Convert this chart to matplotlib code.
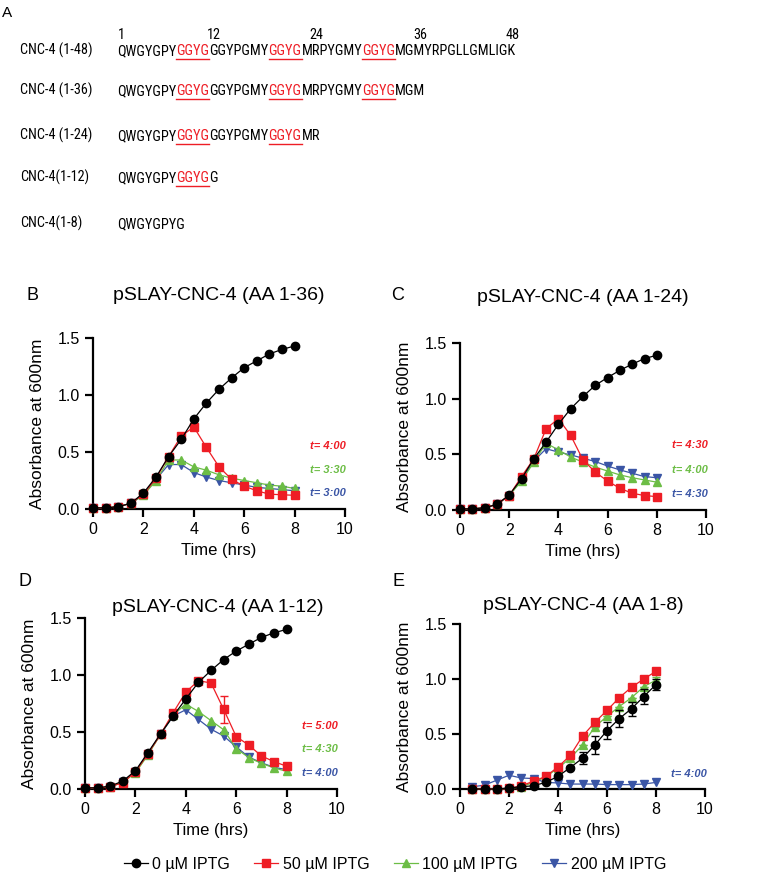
import matplotlib
matplotlib.use("Agg")
import matplotlib.pyplot as plt
from matplotlib import font_manager
from matplotlib.font_manager import FontProperties
from matplotlib.lines import Line2D

plt.rcParams['font.family'] = ['Liberation Sans', 'DejaVu Sans']

# ---------------- data ----------------
time_bcd = [0, 0.5, 1, 1.5, 2, 2.5, 3, 3.5, 4, 4.5, 5, 5.5, 6, 6.5, 7, 7.5, 8]
time_e = [0.5, 1, 1.5, 2, 2.5, 3, 3.5, 4, 4.5, 5, 5.5, 6, 6.5, 7, 7.5, 8]

series_labels = ["0 µM IPTG", "50 µM IPTG", "100 µM IPTG", "200 µM IPTG"]

b_0 = [0.01, 0.01, 0.02, 0.05, 0.14, 0.28, 0.46, 0.61, 0.79, 0.93, 1.05, 1.15, 1.24, 1.30, 1.36, 1.40, 1.43]
b_50 = [0.01, 0.01, 0.02, 0.05, 0.13, 0.27, 0.46, 0.64, 0.72, 0.54, 0.37, 0.26, 0.20, 0.16, 0.13, 0.125, 0.12]
b_100 = [0.01, 0.01, 0.02, 0.05, 0.12, 0.25, 0.43, 0.43, 0.37, 0.34, 0.30, 0.27, 0.25, 0.23, 0.21, 0.20, 0.18]
b_200 = [0.01, 0.01, 0.02, 0.05, 0.12, 0.26, 0.39, 0.39, 0.32, 0.28, 0.25, 0.23, 0.21, 0.19, 0.18, 0.17, 0.16]

c_0 = [0.01, 0.01, 0.02, 0.05, 0.135, 0.28, 0.46, 0.61, 0.77, 0.91, 1.02, 1.12, 1.19, 1.255, 1.31, 1.36, 1.39]
c_50 = [0.01, 0.01, 0.02, 0.05, 0.13, 0.30, 0.46, 0.73, 0.82, 0.67, 0.45, 0.34, 0.26, 0.195, 0.15, 0.13, 0.12]
c_100 = [0.01, 0.01, 0.02, 0.05, 0.13, 0.26, 0.43, 0.60, 0.54, 0.475, 0.43, 0.385, 0.35, 0.315, 0.29, 0.27, 0.25]
c_200 = [0.01, 0.01, 0.02, 0.05, 0.13, 0.27, 0.44, 0.55, 0.52, 0.495, 0.465, 0.435, 0.395, 0.36, 0.33, 0.30, 0.29]

d_0 = [0.01, 0.01, 0.025, 0.07, 0.16, 0.32, 0.485, 0.64, 0.79, 0.935, 1.04, 1.135, 1.21, 1.27, 1.33, 1.37, 1.40]
d_50 = [0.01, 0.01, 0.02, 0.055, 0.15, 0.31, 0.48, 0.67, 0.85, 0.95, 0.93, 0.70, 0.46, 0.385, 0.29, 0.24, 0.20]
d_50_err = [0, 0, 0, 0, 0, 0, 0, 0, 0, 0, 0, 0.12, 0, 0, 0, 0, 0]
d_100 = [0.01, 0.01, 0.02, 0.06, 0.14, 0.30, 0.48, 0.65, 0.745, 0.68, 0.60, 0.52, 0.355, 0.275, 0.225, 0.185, 0.155]
d_200 = [0.01, 0.01, 0.02, 0.06, 0.15, 0.31, 0.48, 0.64, 0.695, 0.61, 0.525, 0.465, 0.37, 0.28, 0.23, 0.19, 0.17]

e_0 = [0.0, 0.0, 0.0, 0.01, 0.02, 0.03, 0.06, 0.115, 0.195, 0.28, 0.40, 0.53, 0.64, 0.73, 0.84, 0.95]
e_0_err = [0, 0, 0, 0, 0, 0, 0, 0.01, 0.015, 0.055, 0.08, 0.075, 0.075, 0.065, 0.065, 0.05]
e_50 = [0.0, 0.0, 0.0, 0.005, 0.03, 0.07, 0.115, 0.20, 0.305, 0.48, 0.605, 0.715, 0.83, 0.925, 1.0, 1.07]
e_100 = [0.0, 0.0, 0.0, 0.005, 0.02, 0.06, 0.11, 0.19, 0.28, 0.40, 0.565, 0.66, 0.75, 0.83, 0.93, 0.99]
e_100_err = [0, 0, 0, 0, 0, 0, 0, 0, 0, 0, 0, 0, 0, 0, 0, 0.03]
e_200 = [0.02, 0.035, 0.08, 0.125, 0.10, 0.095, 0.06, 0.055, 0.045, 0.045, 0.045, 0.04, 0.04, 0.04, 0.045, 0.06]

panel_titles = ["pSLAY-CNC-4 (AA 1-36)", "pSLAY-CNC-4 (AA 1-24)",
                "pSLAY-CNC-4 (AA 1-12)", "pSLAY-CNC-4 (AA 1-8)"]
panel_letters = ["B", "C", "D", "E"]
annot_b = [("t= 4:00", 0.55, 1), ("t= 3:30", 0.34, 2), ("t= 3:00", 0.14, 3)]
annot_c = [("t= 4:30", 0.58, 1), ("t= 4:00", 0.36, 2), ("t= 4:30", 0.14, 3)]
annot_d = [("t= 5:00", 0.55, 1), ("t= 4:30", 0.35, 2), ("t= 4:00", 0.14, 3)]
annot_e = [("t= 4:00", 0.14, 3)]

seq_labels = ["CNC-4 (1-48)", "CNC-4 (1-36)", "CNC-4 (1-24)", "CNC-4(1-12)", "CNC-4(1-8)"]
seq_full = "QWGYGPYGGYGGGYPGMYGGYGMRPYGMYGGYGMGMYRPGLLGMLIGK"
seq_lengths = [48, 36, 24, 12, 8]
motif_starts = [8, 19, 30]   # 1-based start of GGYG motifs
motif_len = 4
pos_marks = [1, 12, 24, 36, 48]

# ---------------- style ----------------
COLORS = ["#000000", "#EE1D25", "#6CBD45", "#3A55A5"]
MARKERS = ["o", "s", "^", "v"]

W, H = 772, 875
fig = plt.figure(figsize=(W / 100, H / 100), dpi=100)
renderer = fig.canvas.get_renderer()


def fx(x):
    return x / W


def fy(y):
    return 1 - y / H


# ---------------- panel A: choose a condensed sans font if available ----------------
fpA_base = None
entries = font_manager.fontManager.ttflist
prefs = ["Liberation Sans Narrow", "Roboto Condensed", "Open Sans Condensed",
         "Noto Sans Condensed", "DejaVu Sans Condensed"]
for pname in prefs:
    for f in entries:
        if f.name == pname and f.style == "normal" and f.weight in (400, "normal", "regular"):
            fpA_base = f.fname
            break
    if fpA_base:
        break
if fpA_base is None:
    for f in entries:
        if (f.stretch == "condensed" and f.style == "normal"
                and f.weight in (400, "normal", "regular")
                and any(k in f.name for k in ["Liberation Sans", "Roboto", "Open Sans", "Noto Sans", "DejaVu Sans", "Lato", "Inter"])
                and "Mono" not in f.name and "CJK" not in f.name):
            fpA_base = f.fname
            break


def make_fp(size):
    if fpA_base:
        return FontProperties(fname=fpA_base, size=size)
    return FontProperties(family="Liberation Sans", size=size)


fp_test = make_fp(10)
w10 = renderer.get_text_width_height_descent(seq_full, fp_test, ismath=False)[0]
sizeA = 10 * 400 / w10
fpA = make_fp(sizeA)

fig.text(fx(2), fy(17), "A", fontsize=11, va="baseline", ha="left")

row_base = [55, 95, 140, 182, 228]
seq_x0 = 117
for lbl, n, yb in zip(seq_labels, seq_lengths, row_base):
    fig.text(fx(20), fy(yb), lbl, fontproperties=fpA, va="baseline", ha="left")
    s = seq_full[:n]
    segs = []
    i = 0
    while i < n:
        starts = [m - 1 for m in motif_starts if m - 1 >= i and m - 1 + motif_len <= n]
        if starts:
            st = starts[0]
            if st > i:
                segs.append((s[i:st], "black", False))
            segs.append((s[st:st + motif_len], COLORS[1], True))
            i = st + motif_len
        else:
            segs.append((s[i:], "black", False))
            i = n
    for txt, col, ul in segs:
        pre = s[:s.index(txt) if False else 0]
    # place segments using prefix widths (keeps natural spacing)
    pos = 0
    for txt, col, ul in segs:
        wpre = renderer.get_text_width_height_descent(s[:pos], fpA, ismath=False)[0] if pos > 0 else 0
        wseg = renderer.get_text_width_height_descent(txt, fpA, ismath=False)[0]
        x = seq_x0 + wpre
        fig.text(fx(x), fy(yb), txt, fontproperties=fpA, color=col, va="baseline", ha="left")
        if ul:
            fig.add_artist(Line2D([fx(x), fx(x + wseg)], [fy(yb + 3.5), fy(yb + 3.5)],
                                  transform=fig.transFigure, color=col, lw=1.0))
        pos += len(txt)
    if n == 48:
        for p in pos_marks:
            wpre = renderer.get_text_width_height_descent(s[:p - 1], fpA, ismath=False)[0] if p > 1 else 0
            wch = renderer.get_text_width_height_descent(s[p - 1], fpA, ismath=False)[0]
            cx = seq_x0 + wpre + wch / 2
            fig.text(fx(cx), fy(39), str(p), fontproperties=fpA, va="baseline", ha="center")

# ---------------- panels B-E ----------------
boxes = [(93, 345, 338, 509), (460, 706, 343, 510), (85, 337, 618, 789), (460, 705, 624, 789)]
title_pos = [(219, 295), (583, 297), (218, 607), (583, 605)]
letter_pos = [(32, 295), (398, 295), (25, 582), (398, 581)]

datasets = [
    (time_bcd, [b_0, b_50, b_100, b_200], [None, None, None, None], annot_b),
    (time_bcd, [c_0, c_50, c_100, c_200], [None, None, None, None], annot_c),
    (time_bcd, [d_0, d_50, d_100, d_200], [None, d_50_err, None, None], annot_d),
    (time_e, [e_0, e_50, e_100, e_200], [e_0_err, None, e_100_err, None], annot_e),
]

handles = []
for k, ((l, r, t, b), (tx, ys, errs, ann)) in enumerate(zip(boxes, datasets)):
    ax = fig.add_axes([fx(l), fy(b), (r - l) / W, (b - t) / H])
    for idx in [3, 2, 1, 0]:
        col = COLORS[idx]
        z = 3 + (3 - idx)
        line, = ax.plot(tx, ys[idx], color=col, marker=MARKERS[idx], markersize=6,
                        markeredgecolor=col, lw=0.9, clip_on=False, zorder=z,
                        label=series_labels[idx])
        if errs[idx] is not None:
            ax.errorbar(tx, ys[idx], yerr=errs[idx], fmt="none", ecolor=col,
                        elinewidth=1.0, capsize=3, capthick=1.0, zorder=z, clip_on=False)
        if k == 0:
            handles.append(line)
    for txt, yv, ci in ann:
        ax.text(8.6, yv, txt, color=COLORS[ci], fontsize=8, fontweight="bold",
                fontstyle="italic", va="center", ha="left", clip_on=False)
    ax.set_xlim(0, 10)
    ax.set_ylim(0, 1.5)
    ax.set_xticks([0, 2, 4, 6, 8, 10])
    ax.set_yticks([0, 0.5, 1.0, 1.5])
    ax.set_yticklabels(["0.0", "0.5", "1.0", "1.5"])
    ax.spines["top"].set_visible(False)
    ax.spines["right"].set_visible(False)
    ax.spines["left"].set_linewidth(1.6)
    ax.spines["bottom"].set_linewidth(1.6)
    ax.tick_params(direction="out", length=5.5, width=1.6, labelsize=11.5, pad=4)
    ax.set_xlabel("Time (hrs)", fontsize=12, labelpad=4)
    ax.set_ylabel("Absorbance at 600nm", fontsize=12.5, labelpad=9)
    tpx, tpy = title_pos[k]
    fig.text(fx(tpx), fy(tpy), panel_titles[k], fontsize=14, ha="center", va="center")
    lpx, lpy = letter_pos[k]
    fig.text(fx(lpx), fy(lpy), panel_letters[k], fontsize=13, ha="center", va="center")

handles = handles[::-1]
fig.legend(handles, [h.get_label() for h in handles], loc="center", ncol=4,
           bbox_to_anchor=(fx(395), fy(864)), frameon=False, fontsize=11.5,
           handlelength=1.5, handletextpad=0.3, columnspacing=1.5, borderpad=0)

fig.savefig("out.png", dpi=100)
